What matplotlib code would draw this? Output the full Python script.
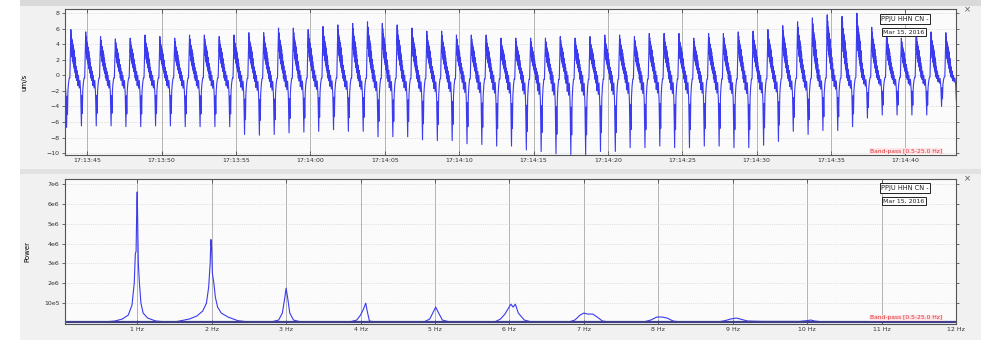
import matplotlib
matplotlib.use("Agg")
import matplotlib.pyplot as plt
from matplotlib.patches import Rectangle

# ---- waveform (um/s), one entry per ~1 s cycle ----
cycle_peaks = [
    5.5, 5.9, 5.6, 5.0, 4.7, 4.8, 5.2, 5.0, 4.8, 5.2, 5.2, 5.0, 5.2, 5.5, 5.5, 6.1, 6.1, 5.9, 6.3,
    6.5, 6.7, 6.9, 6.7, 6.5, 6.1, 5.7, 5.7, 5.2, 5.2, 5.2, 4.8, 4.8, 4.8, 4.8, 5.0, 4.8, 5.0, 5.2,
    5.2, 5.0, 5.4, 5.4, 5.4, 4.8, 5.4, 5.4, 5.6, 5.7, 5.9, 6.4, 6.9, 7.4, 7.8, 7.6, 8.0, 6.2, 5.4,
    4.8, 5.4, 5.6, 5.5,
]
cycle_troughs = [
    -6.7, -6.5, -6.5, -6.5, -6.6, -6.6, -6.5, -6.5, -6.6, -6.6, -6.6, -6.6, -7.6, -7.7, -7.6, -7.4,
    -7.3, -7.2, -7.0, -7.2, -7.2, -7.9, -7.9, -7.9, -8.3, -8.4, -8.4, -8.8, -8.9, -9.1, -9.1, -9.6,
    -9.8, -10.1, -10.2, -10.2, -9.8, -9.8, -9.3, -9.3, -9.1, -9.3, -9.3, -9.1, -9.1, -9.3, -9.3,
    -9.0, -8.5, -7.2, -7.6, -7.1, -7.1, -6.6, -5.5, -5.1, -5.1, -5.1, -5.1, -4.0, -3.4,
]
# shape of one cycle: (phase, fraction of peak if >0 / of trough if <0)
cycle_shape = [
    (0.00, -0.05), (0.03, 0.40), (0.05, 0.75), (0.07, 1.00), (0.085, 0.60), (0.10, 0.90),
    (0.115, 0.50), (0.13, 0.80), (0.145, 0.40), (0.16, 0.75), (0.175, 0.35), (0.19, 0.70),
    (0.205, 0.30), (0.22, 0.65), (0.235, 0.25), (0.25, 0.60), (0.265, 0.20), (0.28, 0.55),
    (0.295, 0.15), (0.31, 0.45), (0.325, 0.10), (0.34, 0.40), (0.36, 0.05), (0.38, 0.30),
    (0.40, -0.05), (0.43, 0.20), (0.46, -0.10), (0.50, 0.10), (0.54, -0.20), (0.58, 0.00),
    (0.63, -0.25), (0.68, -0.10), (0.73, -0.35), (0.78, -1.00), (0.81, -0.40), (0.84, -0.75),
    (0.87, -0.30), (0.91, -0.15), (0.96, -0.05),
]
first_cycle = 42.83   # seconds after 17:13:00
period = 0.997

time_ticks = [45, 50, 55, 60, 65, 70, 75, 80, 85, 90, 95, 100]
time_labels = ["17:13:45", "17:13:50", "17:13:55", "17:14:00", "17:14:05", "17:14:10",
               "17:14:15", "17:14:20", "17:14:25", "17:14:30", "17:14:35", "17:14:40"]

# ---- spectrum (power, x1e6) ----
spec_freq = [
    0.0, 0.55, 0.70, 0.80, 0.88, 0.93, 0.96, 0.975, 0.985, 0.995, 1.0, 1.005, 1.015, 1.03, 1.05,
    1.08, 1.14, 1.25, 1.4,
    1.5, 1.7, 1.8, 1.88, 1.93, 1.96, 1.98, 1.99, 2.0, 2.01, 2.03, 2.05, 2.08, 2.13, 2.22, 2.35, 2.5,
    2.8, 2.9, 2.95, 2.98, 3.0, 3.02, 3.05, 3.1, 3.2,
    3.85, 3.95, 4.0, 4.04, 4.07, 4.09, 4.12, 4.2,
    4.85, 4.93, 4.97, 5.01, 5.05, 5.1, 5.2,
    5.8, 5.88, 5.94, 5.98, 6.02, 6.05, 6.08, 6.12, 6.2, 6.3,
    6.8, 6.88, 6.95, 7.0, 7.05, 7.12, 7.18, 7.25, 7.35,
    7.8, 7.9, 7.98, 8.05, 8.12, 8.2, 8.3,
    8.8, 8.9, 8.97, 9.05, 9.12, 9.2, 9.4,
    9.9, 10.0, 10.05, 10.1, 10.2, 10.3, 12.0,
]
spec_power = [
    0.04, 0.05, 0.10, 0.2, 0.4, 0.9, 2.0, 3.5, 3.6, 6.0, 6.6, 5.5, 3.0, 2.0, 1.0,
    0.5, 0.25, 0.1, 0.05,
    0.05, 0.2, 0.35, 0.6, 1.0, 1.8, 3.0, 4.2, 3.8, 2.5, 2.0, 1.3, 0.8, 0.5, 0.3, 0.12, 0.05,
    0.05, 0.15, 0.5, 1.2, 1.75, 1.3, 0.5, 0.15, 0.05,
    0.05, 0.15, 0.4, 0.7, 1.0, 0.6, 0.1, 0.05,
    0.05, 0.2, 0.5, 0.8, 0.5, 0.15, 0.05,
    0.05, 0.2, 0.45, 0.7, 0.95, 0.8, 0.95, 0.5, 0.15, 0.05,
    0.05, 0.15, 0.4, 0.5, 0.45, 0.45, 0.3, 0.1, 0.05,
    0.05, 0.15, 0.3, 0.3, 0.25, 0.1, 0.05,
    0.05, 0.12, 0.2, 0.25, 0.18, 0.1, 0.08,
    0.08, 0.12, 0.15, 0.1, 0.06, 0.05, 0.04,
]
freq_ticks = [1, 2, 3, 4, 5, 6, 7, 8, 9, 10, 11, 12]
freq_labels = [f"{f} Hz" for f in freq_ticks]
power_ticks = [1, 2, 3, 4, 5, 6, 7]
power_labels = ["10e5", "2e6", "3e6", "4e6", "5e6", "6e6", "7e6"]

W, H = 981, 340


def fx(x):
    return x / W


def fy(y):
    return 1 - y / H


# build trace from cycle values
t_vals, y_vals = [], []
for i, (hi, lo) in enumerate(zip(cycle_peaks, cycle_troughs)):
    for ph, v in cycle_shape:
        t_vals.append(first_cycle + (i + ph) * period)
        y_vals.append(v * hi if v > 0 else v * -lo)

fig = plt.figure(figsize=(W / 100, H / 100), dpi=100, facecolor="#f1f1f1")
fig.patches.append(Rectangle((0, 0), fx(20), 1, transform=fig.transFigure,
                             facecolor="white", edgecolor="none", zorder=0))
fig.patches.append(Rectangle((fx(20), fy(6)), 1, 1, transform=fig.transFigure,
                             facecolor="#d9d9d9", edgecolor="none", zorder=0))
fig.patches.append(Rectangle((fx(20), fy(174)), 1, fy(169) - fy(174), transform=fig.transFigure,
                             facecolor="#e2e2e2", edgecolor="none", zorder=0))

ax1 = fig.add_axes([fx(65), fy(155), fx(891), 146 / H])
ax2 = fig.add_axes([fx(65), fy(324), fx(891), 145 / H])

trace_color = "#3a3aee"
ax1.plot(t_vals, y_vals, color=trace_color, lw=0.8)
ax1.set_xlim(43.5, 103.4)
ax1.set_ylim(-10.25, 8.55)
ax1.set_xticks(time_ticks)
ax1.set_xticklabels(time_labels)
ax1.set_yticks(range(-10, 9, 2))
ax1.set_ylabel("um/s", fontsize=5, labelpad=14)

ax2.plot(spec_freq, spec_power, color=trace_color, lw=0.8)
ax2.plot([0, 12], [0.04, 0.04], color="#40408a", lw=1.6)
ax2.set_xlim(0.03, 12.0)
ax2.set_ylim(-0.05, 7.25)
ax2.set_xticks(freq_ticks)
ax2.set_xticklabels(freq_labels)
ax2.set_yticks(power_ticks)
ax2.set_yticklabels(power_labels)
ax2.set_ylabel("Power", fontsize=5, labelpad=10)

for ax in (ax1, ax2):
    ax.set_facecolor("#fbfbfb")
    ax.grid(axis="x", color="#a8a8a8", lw=0.6)
    ax.grid(axis="y", color="#c8c8c8", lw=0.5, ls=":")
    ax.tick_params(labelsize=4.5, colors="#333333", length=2, width=0.5, pad=2,
                   top=True, right=True, direction="out")
    ax.tick_params(axis="x", top=True, direction="in", length=3)
    for s in ax.spines.values():
        s.set_color("#555555")
        s.set_linewidth(0.8)

# station / date boxes and band-pass labels
box = dict(boxstyle="square,pad=0.25", facecolor="white", edgecolor="#222222", lw=0.7)
for y_top in (19, 188):
    fig.text(fx(905), fy(y_top), "PPJU HHN CN -", fontsize=4.8, ha="center", va="center",
             bbox=box, color="#222222")
    fig.text(fx(904), fy(y_top + 13), "Mar 15, 2016", fontsize=4.5, ha="center", va="center",
             bbox=box, color="#222222")
    fig.text(fx(967), fy(y_top - 9), "\u00d7", fontsize=6, ha="center", va="center", color="#555555")
for y_bp in (151, 318):
    fig.text(fx(906), fy(y_bp), "Band-pass [0.5-25.0 Hz]", fontsize=4.3, ha="center", va="center",
             color="#e03030",
             bbox=dict(boxstyle="square,pad=0.15", facecolor="#ffe4e8", edgecolor="none"))

fig.savefig("out.png", dpi=100, facecolor=fig.get_facecolor())
